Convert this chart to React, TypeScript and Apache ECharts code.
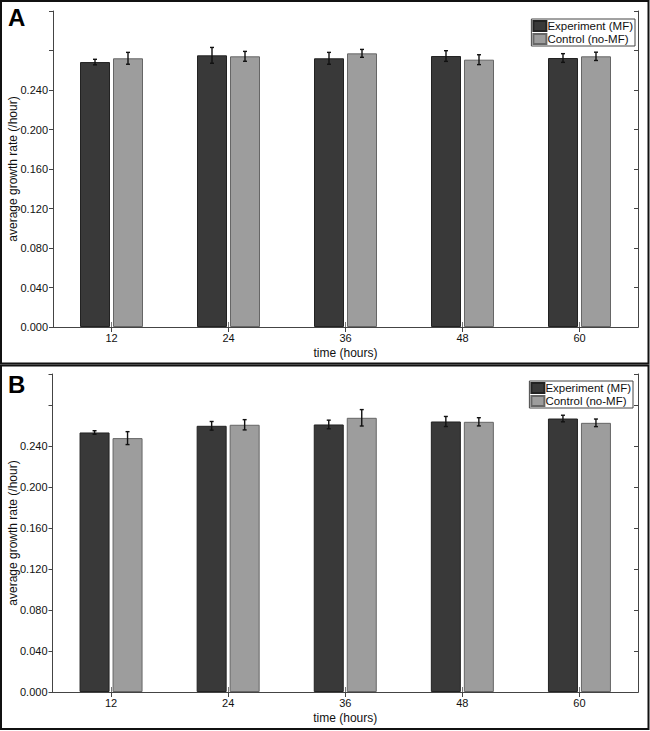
import React, { useEffect, useRef } from "react";
import * as echarts from "echarts";

// Sampling times (hours)
const categories = ["12", "24", "36", "48", "60"];

// Panel A – average growth rate (/hour) and error half-widths
const expA = [0.2683, 0.2751, 0.2721, 0.2744, 0.2724];
const expErrA = [0.0028, 0.008, 0.006, 0.0054, 0.0044];
const ctrlA = [0.2721, 0.2741, 0.2771, 0.2707, 0.2741];
const ctrlErrA = [0.006, 0.005, 0.004, 0.005, 0.0042];

// Panel B – average growth rate (/hour) and error half-widths
const expB = [0.253, 0.2595, 0.2608, 0.2637, 0.2666];
const expErrB = [0.0017, 0.0042, 0.0042, 0.0049, 0.0032];
const ctrlB = [0.2475, 0.2605, 0.2673, 0.2634, 0.2624];
const ctrlErrB = [0.0063, 0.005, 0.008, 0.004, 0.0037];

const yTickValues = ["0.000", "0.040", "0.080", "0.120", "0.160", "0.200", "0.240"];

const EXP_NAME = "Experiment (MF)";
const CTRL_NAME = "Control (no-MF)";
const FONT = "Liberation Sans, Arial, Helvetica, sans-serif";
const BAR_W = 30;
const BAR_GAP_PX = 3;

function errorSeries(
  gridIdx: number,
  vals: number[],
  errs: number[],
  side: number
) {
  const data = vals.map((v, i) => [i, v - errs[i], v + errs[i]]);
  return {
    type: "custom",
    xAxisIndex: gridIdx * 2,
    yAxisIndex: gridIdx * 2,
    z: 10,
    silent: true,
    data,
    renderItem: (params: any, api: any) => {
      const idx = api.value(0);
      const lo = api.coord([idx, api.value(1)]);
      const hi = api.coord([idx, api.value(2)]);
      const x = lo[0] + side * (BAR_W / 2 + BAR_GAP_PX / 2);
      const cap = 2;
      const style = { stroke: "#111", lineWidth: 1.4 };
      return {
        type: "group",
        children: [
          { type: "line", shape: { x1: x, y1: lo[1], x2: x, y2: hi[1] }, style },
          { type: "line", shape: { x1: x - cap, y1: lo[1], x2: x + cap, y2: lo[1] }, style },
          { type: "line", shape: { x1: x - cap, y1: hi[1], x2: x + cap, y2: hi[1] }, style },
        ],
      };
    },
  };
}

export default function App() {
  const ref = useRef<HTMLDivElement>(null);

  useEffect(() => {
    if (!ref.current) return;
    const chart = echarts.init(ref.current, undefined, { renderer: "svg" });

    const grids = [
      { left: 53, top: 11, width: 585, height: 316, max: 0.32 },
      { left: 52.5, top: 374, width: 585.5, height: 318, max: 0.31 },
    ];

    const axisLine = { show: true, lineStyle: { color: "#444", width: 1 } };
    const labelStyle = { color: "#111", fontSize: 11, fontFamily: FONT };

    const xAxes: any[] = [];
    const yAxes: any[] = [];
    grids.forEach((g, gi) => {
      xAxes.push({
        type: "category",
        gridIndex: gi,
        data: categories,
        position: "bottom",
        name: "time (hours)",
        nameLocation: "middle",
        nameGap: 20,
        nameMoveOverlap: false,
        nameTextStyle: { color: "#111", fontSize: 12, fontFamily: FONT },
        axisLine,
        axisTick: { show: true, inside: true, length: 5, alignWithLabel: true, lineStyle: { color: "#777" } },
        axisLabel: { ...labelStyle, margin: 5 },
        splitLine: { show: false },
      });
      xAxes.push({
        type: "category",
        gridIndex: gi,
        data: categories,
        position: "top",
        axisLine,
        axisTick: { show: true, inside: true, length: 5, alignWithLabel: true, lineStyle: { color: "#444" } },
        axisLabel: { show: false },
        splitLine: { show: false },
      });
      yAxes.push({
        type: "value",
        gridIndex: gi,
        min: 0,
        max: g.max,
        interval: 0.04,
        name: "average growth rate (/hour)",
        nameLocation: "middle",
        nameGap: 34,
        nameMoveOverlap: false,
        nameTextStyle: { color: "#111", fontSize: 12, fontFamily: FONT },
        axisLine,
        axisTick: { show: true, inside: false, length: 4, lineStyle: { color: "#444" } },
        axisLabel: {
          ...labelStyle,
          margin: 5,
          formatter: (v: number) => {
            const s = v.toFixed(3);
            return yTickValues.includes(s) ? s : "";
          },
        },
        splitLine: { show: false },
      });
      yAxes.push({
        type: "value",
        gridIndex: gi,
        min: 0,
        max: g.max,
        interval: 0.04,
        position: "right",
        axisLine,
        axisTick: { show: true, inside: true, length: 4, lineStyle: { color: "#444" } },
        axisLabel: { show: false },
        splitLine: { show: false },
      });
    });

    const barSeries = (gi: number, name: string, vals: number[], fill: string, border: string) => ({
      type: "bar",
      name,
      xAxisIndex: gi * 2,
      yAxisIndex: gi * 2,
      data: vals,
      barWidth: BAR_W,
      barGap: `${(BAR_GAP_PX / BAR_W) * 100}%`,
      itemStyle: { color: fill, borderColor: border, borderWidth: 1 },
    });

    const expFill = "#393939";
    const expBorder = "#222";
    const ctrlFill = "#9d9d9d";
    const ctrlBorder = "#666";

    const legendCommon = {
      orient: "vertical",
      data: [EXP_NAME, CTRL_NAME],
      icon: "rect",
      itemWidth: 13,
      itemHeight: 10,
      itemGap: 1,
      padding: [1, 2, 1, 1],
      borderColor: "#444",
      borderWidth: 1,
      backgroundColor: "#fff",
      selectedMode: false,
      textStyle: { color: "#111", fontSize: 11.5, fontFamily: FONT, padding: [0, 0, 0, -4], lineHeight: 12 },
    };

    chart.setOption({
      animation: false,
      textStyle: { fontFamily: FONT },
      grid: grids.map((g) => ({
        left: g.left,
        top: g.top,
        width: g.width,
        height: g.height,
        containLabel: false,
        outerBoundsMode: "none",
      })),
      xAxis: xAxes,
      yAxis: yAxes,
      legend: [
        { ...legendCommon, right: 15, top: 19 },
        { ...legendCommon, right: 17, top: 381 },
      ],
      series: [
        barSeries(0, EXP_NAME, expA, expFill, expBorder),
        barSeries(0, CTRL_NAME, ctrlA, ctrlFill, ctrlBorder),
        errorSeries(0, expA, expErrA, -1),
        errorSeries(0, ctrlA, ctrlErrA, 1),
        barSeries(1, EXP_NAME, expB, expFill, expBorder),
        barSeries(1, CTRL_NAME, ctrlB, ctrlFill, ctrlBorder),
        errorSeries(1, expB, expErrB, -1),
        errorSeries(1, ctrlB, ctrlErrB, 1),
      ],
      graphic: [
        {
          type: "rect",
          shape: { x: 1, y: 1, width: 647.5, height: 362.5 },
          style: { fill: "none", stroke: "#111", lineWidth: 2 },
        },
        {
          type: "rect",
          shape: { x: 1, y: 365.5, width: 647.5, height: 363.5 },
          style: { fill: "none", stroke: "#111", lineWidth: 2 },
        },
        {
          type: "text",
          left: 8,
          top: 5,
          style: { text: "A", fill: "#000", font: `bold 24px ${FONT}` },
        },
        {
          type: "text",
          left: 8,
          top: 372,
          style: { text: "B", fill: "#000", font: `bold 24px ${FONT}` },
        },
      ],
    });

    return () => chart.dispose();
  }, []);

  return (
    <div
      ref={ref}
      style={{ position: "absolute", left: 0, top: 0, width: 650, height: 731, background: "#fff" }}
    />
  );
}
